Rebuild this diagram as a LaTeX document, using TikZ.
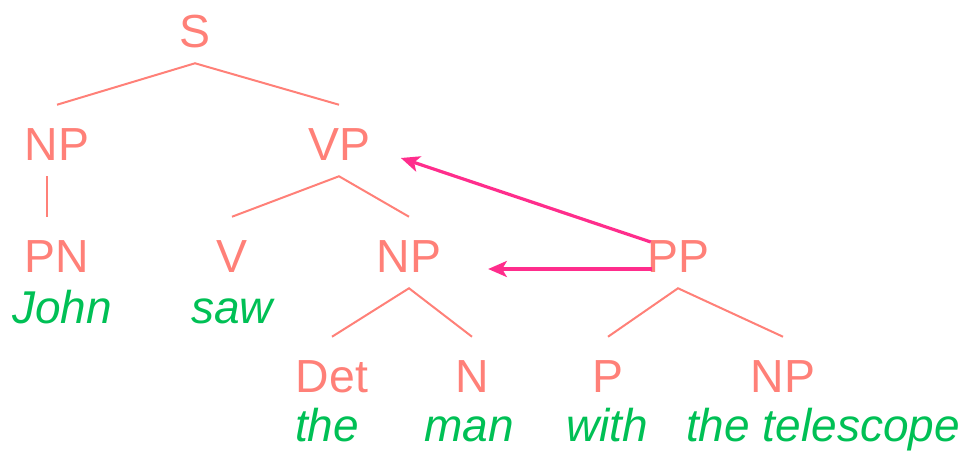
\documentclass[tikz,border=0pt]{standalone}
\usepackage{fontspec}
\setmainfont{Liberation Sans}
\usepackage{tikz}
\usetikzlibrary{arrows.meta}
\definecolor{treesalmon}{HTML}{FF8078}
\definecolor{wordgreen}{HTML}{00C055}
\definecolor{movepink}{HTML}{FF2D8C}

\begin{document}
\begin{tikzpicture}[x=0.75pt, y=-0.75pt,
    every node/.style={font=\fontsize{34.8}{40}\selectfont, inner sep=0pt, anchor=base},
    cat/.style={text=treesalmon, text height=41.25pt, text depth=12pt},
    word/.style={text=wordgreen, font=\fontsize{34.5}{40}\selectfont\itshape},
    branch/.style={treesalmon, line width=1.5pt},
    move/.style={movepink, line width=2.4pt, -{Stealth[length=14pt, width=12pt, inset=3.5pt]}}]
  \useasboundingbox (0,0) rectangle (963,450);
  % categories
  \node[cat] (S) at (195,47) {S};
  \node[cat] (NPs) at (57,160) {NP};
  \node[cat] (VP) at (339,160) {VP};
  \node[cat] (PN) at (57,272) {PN};
  \node[cat] (V) at (232,272) {V};
  \node[cat] (NPo) at (409,272) {NP};
  \node[cat] (PP) at (678,272) {PP};
  \node[cat] (Det) at (332,392) {Det};
  \node[cat] (N) at (472,392) {N};
  \node[cat] (P) at (608,392) {P};
  \node[cat] (NPp) at (783,392) {NP};
  % words
  \node[word] (john) at (62,323) {John};
  \node[word] (saw) at (232,323) {saw};
  \node[word] (the) at (327,441) {the};
  \node[word] (man) at (469,441) {man};
  \node[word] (with) at (607,441) {with};
  \node[word] (tel) at (823,441) {the telescope};
  % branches
  \draw[branch] (NPs.north) -- (S.south) -- (VP.north);
  \draw[branch] ([xshift=-7.5pt]NPs.south) -- ([xshift=-7.5pt]PN.north);
  \draw[branch] (V.north) -- (VP.south) -- (NPo.north);
  \draw[branch] (Det.north) -- (NPo.south) -- (N.north);
  \draw[branch] (P.north) -- (PP.south) -- (NPp.north);
  % attachment arrows
  \draw[move] ([xshift=3pt, yshift=22.5pt]PP.base west) -- ([xshift=23pt, yshift=1.5pt]VP.base east);
  \draw[move] ([xshift=3.75pt, yshift=2.25pt]PP.base west) -- ([xshift=35pt, yshift=2.25pt]NPo.base east);
\end{tikzpicture}
\end{document}
